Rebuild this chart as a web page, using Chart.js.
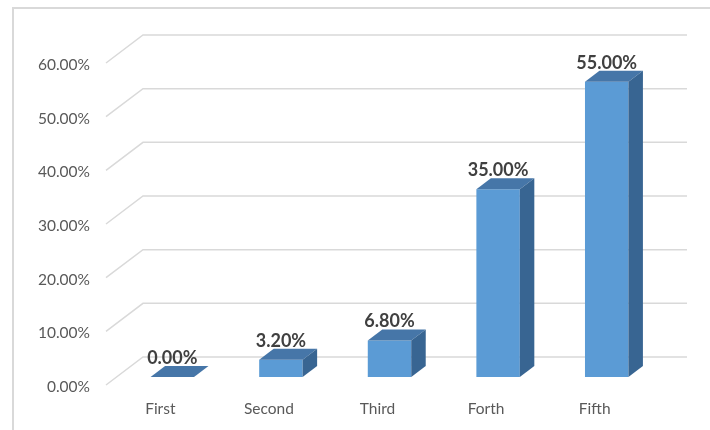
<!DOCTYPE html>
<html>
<head>
<meta charset="utf-8">
<script src="https://cdn.jsdelivr.net/npm/chart.js@4"></script>
<style>
  body { margin: 0; background: #fff; }
  canvas { display: block; }
</style>
</head>
<body>
<canvas id="barChart" width="710" height="430"></canvas>
<script>
//Chart data
var categories = ['First', 'Second', 'Third', 'Forth', 'Fifth'];
var shares = [0, 3.2, 6.8, 35, 55];
var tickValues = [0, 10, 20, 30, 40, 50, 60];

//3D look
var frontColor = '#5b9bd5';
var topColor = '#4676a8';
var sideColor = '#386592';
var depthX = 14.5;
var depthY = -11;
var fontName = 'Lato';

//walls + gridlines behind bars
var wallPlugin = {
  id: 'walls',
  beforeDraw: function(chart) {
    var c = chart.ctx;
    c.save();
    c.strokeStyle = '#d9d9d9';
    c.lineWidth = 2;
    c.beginPath();
    c.moveTo(13, 430);
    c.lineTo(13, 8);
    c.lineTo(710, 8);
    c.stroke();
    c.restore();
  },
  beforeDatasetsDraw: function(chart) {
    var c = chart.ctx;
    var area = chart.chartArea;
    var yScale = chart.scales.y;
    c.save();
    c.strokeStyle = '#d9d9d9';
    c.lineWidth = 1.5;
    yScale.ticks.forEach(function(t) {
      var y = yScale.getPixelForValue(t.value);
      c.beginPath();
      c.moveTo(area.left - 12, y + 8);
      c.lineTo(area.left + 25, y - 20);
      c.lineTo(area.right + 26, y - 20);
      c.stroke();
    });
    c.restore();
  },
  afterDatasetsDraw: function(chart) {
    var c = chart.ctx;
    var meta = chart.getDatasetMeta(0);
    c.save();
    meta.data.forEach(function(bar, i) {
      var half = bar.width / 2;
      var l = bar.x - half;
      var r = bar.x + half;
      var top = bar.y;
      var base = bar.base;
      //top face
      c.fillStyle = topColor;
      c.beginPath();
      c.moveTo(l, top);
      c.lineTo(r, top);
      c.lineTo(r + depthX, top + depthY);
      c.lineTo(l + depthX, top + depthY);
      c.closePath();
      c.fill();
      //side face
      if (base - top > 0) {
        c.fillStyle = sideColor;
        c.beginPath();
        c.moveTo(r, top);
        c.lineTo(r + depthX, top + depthY);
        c.lineTo(r + depthX, base + depthY);
        c.lineTo(r, base);
        c.closePath();
        c.fill();
      }
      //value label
      c.fillStyle = '#404040';
      c.font = 'bold 18px ' + fontName;
      c.textAlign = 'center';
      c.textBaseline = 'middle';
      c.fillText(shares[i].toFixed(2) + '%', bar.x, top - 19);
    });
    c.restore();
  }
};

var ctx = document.getElementById('barChart');
var myChart = new Chart(ctx, {
  type: 'bar',
  data: {
    labels: categories,
    datasets: [{
      data: shares,
      backgroundColor: frontColor,
      borderWidth: 0,
      barPercentage: 0.4,
      categoryPercentage: 1
    }]
  },
  options: {
    responsive: false,
    animation: false,
    layout: { padding: { left: 0, right: 49, top: 55, bottom: 0 } },
    plugins: {
      legend: { display: false },
      tooltip: { enabled: false }
    },
    scales: {
      x: {
        grid: { display: false, drawTicks: false },
        border: { display: false },
        ticks: {
          color: '#595959',
          font: { family: fontName, size: 15.5 },
          padding: 23,
          labelOffset: -12
        },
        afterFit: function(s) { s.height = 53; }
      },
      y: {
        min: 0,
        max: 60,
        afterBuildTicks: function(s) {
          s.ticks = tickValues.map(function(v) { return { value: v }; });
        },
        grid: { display: false, drawTicks: false },
        border: { display: false },
        ticks: {
          color: '#595959',
          font: { family: fontName, size: 15.5 },
          padding: 28,
          labelOffset: 10,
          callback: function(v) { return v.toFixed(2) + '%'; }
        },
        afterFit: function(s) { s.width = 118; }
      }
    }
  },
  plugins: [wallPlugin]
});
</script>
</body>
</html>
